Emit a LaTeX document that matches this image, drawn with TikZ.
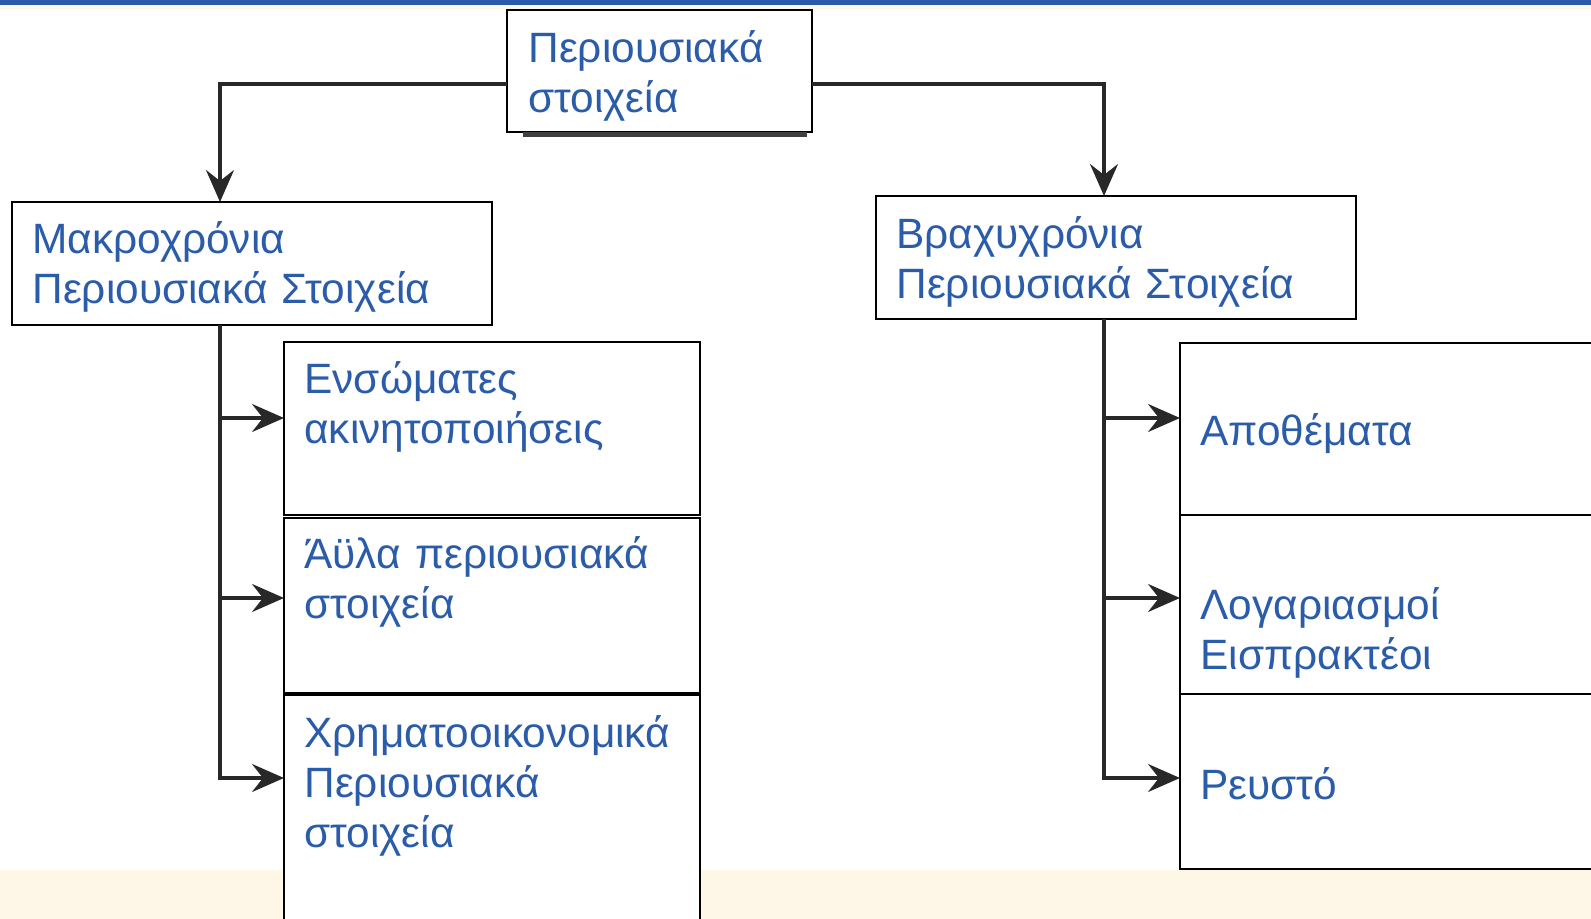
\documentclass[tikz,border=0pt]{standalone}
\usepackage{fontspec}
\setmainfont{Liberation Sans}
\usepackage{tikz}
\usetikzlibrary{positioning}
\usetikzlibrary{calc}
\usetikzlibrary{arrows.meta}
\definecolor{txtblue}{RGB}{42,92,170}
\definecolor{topblue}{RGB}{40,90,168}
\definecolor{cream}{RGB}{254,246,231}
\definecolor{linegray}{RGB}{40,40,40}
\tikzset{every picture/.style={x=0.5pt,y=-0.5pt},
  box/.style={draw, fill=white, line width=1.1pt, anchor=north west, inner sep=0pt, outer sep=0pt},
  lbl/.style={anchor=base west, inner sep=0pt, text=txtblue, text width=230pt, align=left,
    font=\fontsize{21.2pt}{25pt}\selectfont},
  conn/.style={draw=linegray, line width=1.6pt, -{Stealth[length=16pt,width=14pt,inset=5.5pt]}}}

\begin{document}
\begin{tikzpicture}
\useasboundingbox (0,0) rectangle (1591,919);
\clip (0,0) rectangle (1591,919);
% page strips
\fill[topblue] (0,0) rectangle (1591,5);
\fill[cream] (0,5) rectangle (1591,9);
\fill[cream] (0,870) rectangle (1591,919);

\node (pa) [box, minimum width=152.5pt, minimum height=61pt] at (507,10) {};
\node (mk) [box, minimum width=240pt, minimum height=61.5pt] at (12,202) {};
\node (br) [box, minimum width=240pt, minimum height=61.5pt] at (876,196) {};
\fill[black!75] ($(pa.south west)+(16,0)$) rectangle ($(pa.south east)+(-5,5)$);

% long term side
\node (e1) [box, minimum width=208pt, minimum height=86.5pt] at (284,342) {};
\node (e2) [box, minimum width=208pt, minimum height=87.5pt, below=1.5pt of e1] {};
\node (e3) [box, minimum width=208pt, minimum height=122.5pt, below=1pt of e2] {};
% short term side
\node (b1) [box, minimum width=220pt, minimum height=86pt] at (1180,343) {};
\node (b2) [box, minimum width=220pt, minimum height=89.5pt, below=0pt of b1] {};
\node (b3) [box, minimum width=220pt, minimum height=87.5pt, below=0pt of b2] {};

\node (pa-t) [lbl] at ($(pa.north west)+(21,53)$) {Περιουσιακά\\στοιχεία};
\node (mk-t) [lbl] at ($(mk.north west)+(20,52)$) {Μακροχρόνια\\Περιουσιακά Στοιχεία};
\node (br-t) [lbl] at ($(br.north west)+(20,53)$) {Βραχυχρόνια\\Περιουσιακά Στοιχεία};
\node (e1-t) [lbl] at ($(e1.north west)+(20,52)$) {Ενσώματες\\ακινητοποιήσεις};
\node (e2-t) [lbl] at ($(e2.north west)+(20,50)$) {Άϋλα περιουσιακά\\στοιχεία};
\node (e3-t) [lbl] at ($(e3.north west)+(20,52)$) {Χρηματοοικονομικά\\Περιουσιακά\\στοιχεία};
\node (b1-t) [lbl] at ($(b1.north west)+(20,103)$) {Αποθέματα};
\node (b2-t) [lbl] at ($(b2.north west)+(20,104)$) {Λογαριασμοί\\Εισπρακτέοι};
\node (b3-t) [lbl] at ($(b3.north west)+(20,105)$) {Ρευστό};

\coordinate (mk-top) at ($(mk.north west)+(208,0)$);
\coordinate (mk-bot) at ($(mk.south west)+(208,0)$);
\coordinate (br-top) at ($(br.north west)+(228,0)$);
\coordinate (br-bot) at ($(br.south west)+(228,0)$);

\draw[conn] ([yshift=-6.5pt]pa.west) -| (mk-top);
\draw[conn] ([yshift=-6.5pt]pa.east) -| (br-top);

\draw[conn] (mk-bot) |- ([yshift=5.25pt]e1.west);
\draw[conn] (mk-bot) |- ([yshift=3.75pt]e2.west);
\draw[conn] (mk-bot) |- ([yshift=19.75pt]e3.west);

\draw[conn] (br-bot) |- ([yshift=5.5pt]b1.west);
\draw[conn] (br-bot) |- ([yshift=3.25pt]b2.west);
\draw[conn] (br-bot) |- ([yshift=1.75pt]b3.west);
\end{tikzpicture}
\end{document}
